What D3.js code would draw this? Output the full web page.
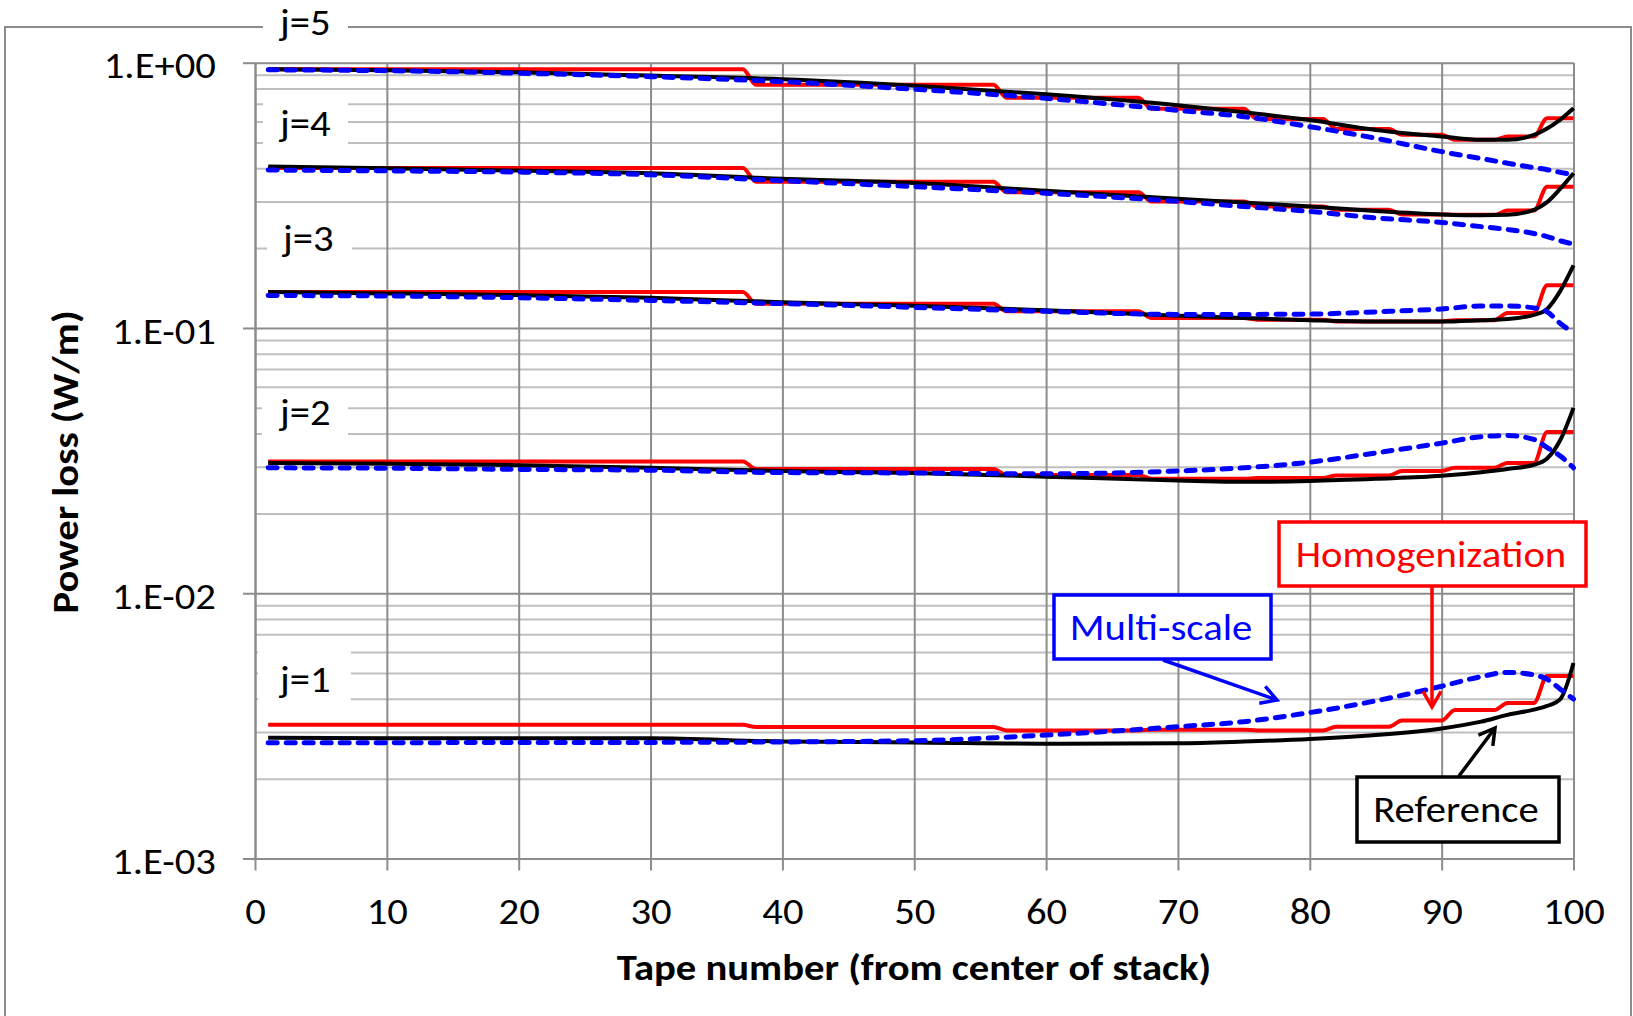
<html>
<head>
<meta charset="utf-8">
<title>Power loss per tape</title>
<style type="text/css">
body { margin: 0; background: #fff; }
svg { font-family: Carlito, Lato, "Open Sans", sans-serif; }
.grid .domain { display: none; }
.grid.minor line { stroke: #bfbfbf; stroke-width: 2px; }
.grid.major line { stroke: #8c8c8c; stroke-width: 2px; }
.axis path, .axis line { stroke: #8c8c8c; stroke-width: 2px; }
.axis text { fill: #000; font-size: 36px; }
.title { font-size: 36px; font-weight: bold; fill: #000; }
.jlab { font-size: 36px; fill: #000; }
.note { font-size: 36px; text-anchor: middle; }
.line { fill: none; stroke-linejoin: round; }
</style>
</head>
<body>
<script src="https://d3js.org/d3.v7.min.js"></script>
<script>
// tape positions where the smooth curves were read
var tapeX = [1, 10, 20, 30, 40, 50, 60, 70, 75, 80, 85, 90, 93, 95, 97, 98, 99, 100];

// Reference (black)
var refJ1 = [0.00285, 0.00284, 0.00284, 0.00284, 0.00276, 0.00274, 0.00271, 0.00272, 0.00276, 0.00282, 0.00292, 0.00309, 0.00328, 0.00348, 0.00364, 0.00376, 0.00399, 0.00546];
var refJ2 = [0.0310, 0.0308, 0.0304, 0.0297, 0.0289, 0.0284, 0.0275, 0.0266, 0.0263, 0.0265, 0.0270, 0.0277, 0.0286, 0.0294, 0.0305, 0.0322, 0.0378, 0.0500];
var refJ3 = [0.1365, 0.135, 0.133, 0.130, 0.125, 0.1214, 0.1165, 0.1112, 0.109, 0.107, 0.1058, 0.1058, 0.107, 0.108, 0.112, 0.118, 0.138, 0.172];
var refJ4 = [0.406, 0.400, 0.392, 0.383, 0.365, 0.352, 0.329, 0.307, 0.297, 0.287, 0.276, 0.268, 0.266, 0.267, 0.279, 0.298, 0.335, 0.383];
var refJ5 = [0.944, 0.936, 0.920, 0.894, 0.866, 0.819, 0.760, 0.691, 0.650, 0.608, 0.558, 0.527, 0.512, 0.512, 0.534, 0.565, 0.610, 0.673];

// Multi-scale (blue dashed)
var msJ1 = [0.00273, 0.00273, 0.00274, 0.00274, 0.00275, 0.00278, 0.00292, 0.00314, 0.00328, 0.00355, 0.00393, 0.00446, 0.00485, 0.00503, 0.00492, 0.00474, 0.00435, 0.00399];
var msJ2 = [0.0297, 0.0296, 0.0293, 0.0291, 0.0285, 0.0284, 0.0282, 0.0289, 0.0297, 0.0312, 0.0338, 0.0368, 0.0389, 0.0393, 0.0380, 0.0354, 0.0329, 0.0297];
var msJ3 = [0.1325, 0.132, 0.130, 0.127, 0.1235, 0.1196, 0.1155, 0.1125, 0.1125, 0.1128, 0.115, 0.118, 0.121, 0.121, 0.119, 0.115, 0.104, 0.0959];
var msJ4 = [0.394, 0.391, 0.387, 0.378, 0.359, 0.341, 0.322, 0.300, 0.287, 0.275, 0.260, 0.250, 0.241, 0.235, 0.227, 0.221, 0.213, 0.207];
var msJ5 = [0.940, 0.933, 0.913, 0.886, 0.848, 0.794, 0.734, 0.661, 0.626, 0.574, 0.519, 0.462, 0.435, 0.418, 0.402, 0.395, 0.386, 0.378];

// Homogenization (red): one value per block of tapes
var blockStart = [1, 38, 57, 68, 76, 82, 87, 91, 95, 98];
var blockEnd   = [37, 56, 67, 75, 81, 86, 90, 94, 97, 100];
var homJ1 = [0.00319, 0.00313, 0.00304, 0.00306, 0.00304, 0.00314, 0.00331, 0.00363, 0.00386, 0.00487];
var homJ2 = [0.0314, 0.0294, 0.0279, 0.0270, 0.0272, 0.0278, 0.0289, 0.0297, 0.0310, 0.0405];
var homJ3 = [0.1365, 0.1235, 0.1155, 0.109, 0.1075, 0.1058, 0.1058, 0.107, 0.1138, 0.145];
var homJ4 = [0.401, 0.356, 0.325, 0.300, 0.287, 0.279, 0.268, 0.267, 0.277, 0.341];
var homJ5 = [0.945, 0.826, 0.738, 0.670, 0.614, 0.563, 0.535, 0.512, 0.527, 0.617];

var jLabels = ["j=1", "j=2", "j=3", "j=4", "j=5"];
var yTickValues = [1e-3, 1e-2, 1e-1, 1];

var W = 1633, H = 1016;
var x0 = 255, x1 = 1573.5, yTop = 62.7, yBot = 858.5;
var sx = 1.13; // glyphs in the picture are wider than Lato's

var x = d3.scaleLinear().domain([0, 100]).range([x0, x1]);
var y = d3.scaleLog().domain([1e-3, 1]).range([yBot, yTop]);

var svg = d3.select("body").append("svg")
    .attr("width", W)
    .attr("height", H);

// widen text horizontally around its anchor point
function widen(sel) {
  sel.each(function() {
    var t = d3.select(this);
    var tx = +t.attr("x") || 0, ty = +t.attr("y") || 0;
    t.attr("x", 0).attr("y", 0)
     .attr("transform", "translate(" + tx + "," + ty + ") scale(" + sx + ",1)");
  });
}

// outer chart frame
svg.append("rect")
    .attr("x", 5).attr("y", 27)
    .attr("width", 1626).attr("height", 1100)
    .attr("fill", "none").attr("stroke", "#8c8c8c").attr("stroke-width", 2);

var isDecade = function(d) { return Math.abs(Math.log10(d) - Math.round(Math.log10(d))) < 1e-9; };

// minor horizontal grid
svg.append("g").attr("class", "grid minor")
    .attr("transform", "translate(" + x0 + ",0)")
    .call(d3.axisLeft(y).tickValues(y.ticks().filter(function(d) { return !isDecade(d); }))
        .tickSize(-(x1 - x0)).tickFormat(""));

// major horizontal grid
svg.append("g").attr("class", "grid major")
    .attr("transform", "translate(" + x0 + ",0)")
    .call(d3.axisLeft(y).tickValues(yTickValues).tickSize(-(x1 - x0)).tickFormat(""));

// vertical grid
svg.append("g").attr("class", "grid major")
    .attr("transform", "translate(0," + yTop + ")")
    .call(d3.axisBottom(x).ticks(10).tickSize(yBot - yTop).tickFormat(""));

function expFmt(d) {
  var e = Math.round(Math.log10(d));
  return "1.E" + (e < 0 ? "-" : "+") + d3.format("02d")(Math.abs(e));
}

var yAxis = svg.append("g").attr("class", "axis")
    .attr("transform", "translate(" + x0 + ",0)")
    .call(d3.axisLeft(y).tickValues(yTickValues).tickSize(12).tickSizeOuter(0)
        .tickPadding(27).tickFormat(expFmt));
yAxis.attr("font-family", null).attr("font-size", null);
yAxis.selectAll("text").attr("dy", "0.42em").call(widen);

var xAxis = svg.append("g").attr("class", "axis")
    .attr("transform", "translate(0," + yBot + ")")
    .call(d3.axisBottom(x).ticks(10).tickSize(12).tickSizeOuter(0).tickPadding(28));
xAxis.attr("font-family", null).attr("font-size", null);
xAxis.selectAll("text").call(widen);

// axis titles
svg.append("text").attr("class", "title")
    .attr("x", 914).attr("y", 980)
    .attr("text-anchor", "middle")
    .text("Tape number (from center of stack)")
    .call(widen);

svg.append("text").attr("class", "title")
    .attr("transform", "translate(78,462) rotate(-90) scale(" + sx + ",1)")
    .attr("text-anchor", "middle")
    .text("Power loss (W/m)");

// j labels on white patches
var jLab = [
  {x: 263, y: 2,   w: 85, h: 45, tx: 280, ty: 35},
  {x: 262, y: 392, w: 86, h: 55, tx: 280, ty: 425},
  {x: 267, y: 214, w: 85, h: 51, tx: 283, ty: 251},
  {x: 263, y: 96,  w: 85, h: 54, tx: 280, ty: 136},
  {x: 258, y: 642, w: 93, h: 66, tx: 280, ty: 692}
];
var jOrder = [4, 1, 2, 3, 0];
jLab.forEach(function(b, i) {
  svg.append("rect").attr("x", b.x).attr("y", b.y).attr("width", b.w).attr("height", b.h).attr("fill", "#fff");
  svg.append("text").attr("class", "jlab").attr("x", b.tx).attr("y", b.ty)
      .text(jLabels[jOrder[i]]).call(widen);
});

// series
var smooth = d3.line()
    .x(function(d) { return x(d[0]); })
    .y(function(d) { return y(d[1]); })
    .curve(d3.curveMonotoneX);

function pairs(vals) { return tapeX.map(function(t, i) { return [t, vals[i]]; }); }
function steps(vals) {
  var pts = [];
  vals.forEach(function(v, i) {
    pts.push([blockStart[i], v]);
    pts.push([blockEnd[i], v]);
  });
  return pts;
}

[homJ1, homJ2, homJ3, homJ4, homJ5].forEach(function(s) {
  svg.append("path").attr("class", "line").attr("d", smooth(steps(s)))
      .attr("stroke", "#ff0000").attr("stroke-width", 4);
});
[refJ1, refJ2, refJ3, refJ4, refJ5].forEach(function(s) {
  svg.append("path").attr("class", "line").attr("d", smooth(pairs(s)))
      .attr("stroke", "#000").attr("stroke-width", 4);
});
[msJ1, msJ2, msJ3, msJ4, msJ5].forEach(function(s) {
  svg.append("path").attr("class", "line").attr("d", smooth(pairs(s)))
      .attr("stroke", "#0000ff").attr("stroke-width", 5)
      .attr("stroke-dasharray", "9,9").attr("stroke-linecap", "round");
});

// callouts
function arrow(xa, ya, xb, yb, color) {
  var a = Math.atan2(yb - ya, xb - xa), L = 18, s = Math.PI / 6;
  svg.append("line").attr("x1", xa).attr("y1", ya).attr("x2", xb).attr("y2", yb)
      .attr("stroke", color).attr("stroke-width", 3.5);
  svg.append("path")
      .attr("d", "M" + (xb - L * Math.cos(a - s)) + "," + (yb - L * Math.sin(a - s)) +
                 "L" + xb + "," + yb +
                 "L" + (xb - L * Math.cos(a + s)) + "," + (yb - L * Math.sin(a + s)))
      .attr("fill", "none").attr("stroke", color).attr("stroke-width", 3.5);
}
function box(bx, by, bw, bh, color, label, tx, ty) {
  svg.append("rect").attr("x", bx).attr("y", by).attr("width", bw).attr("height", bh)
      .attr("fill", "#fff").attr("stroke", color).attr("stroke-width", 3.5);
  svg.append("text").attr("class", "note").attr("x", tx).attr("y", ty)
      .attr("fill", color).text(label).call(widen);
}

arrow(1432, 587, 1432, 707, "#ff0000");
box(1279, 522, 307, 64, "#ff0000", "Homogenization", 1431, 567);

arrow(1163, 660, 1277, 700, "#0000ff");
box(1054, 595, 217, 64, "#0000ff", "Multi-scale", 1161, 640);

arrow(1459, 776, 1495, 728, "#000");
box(1357, 777, 202, 65, "#000", "Reference", 1456, 822);
</script>
</body>
</html>
